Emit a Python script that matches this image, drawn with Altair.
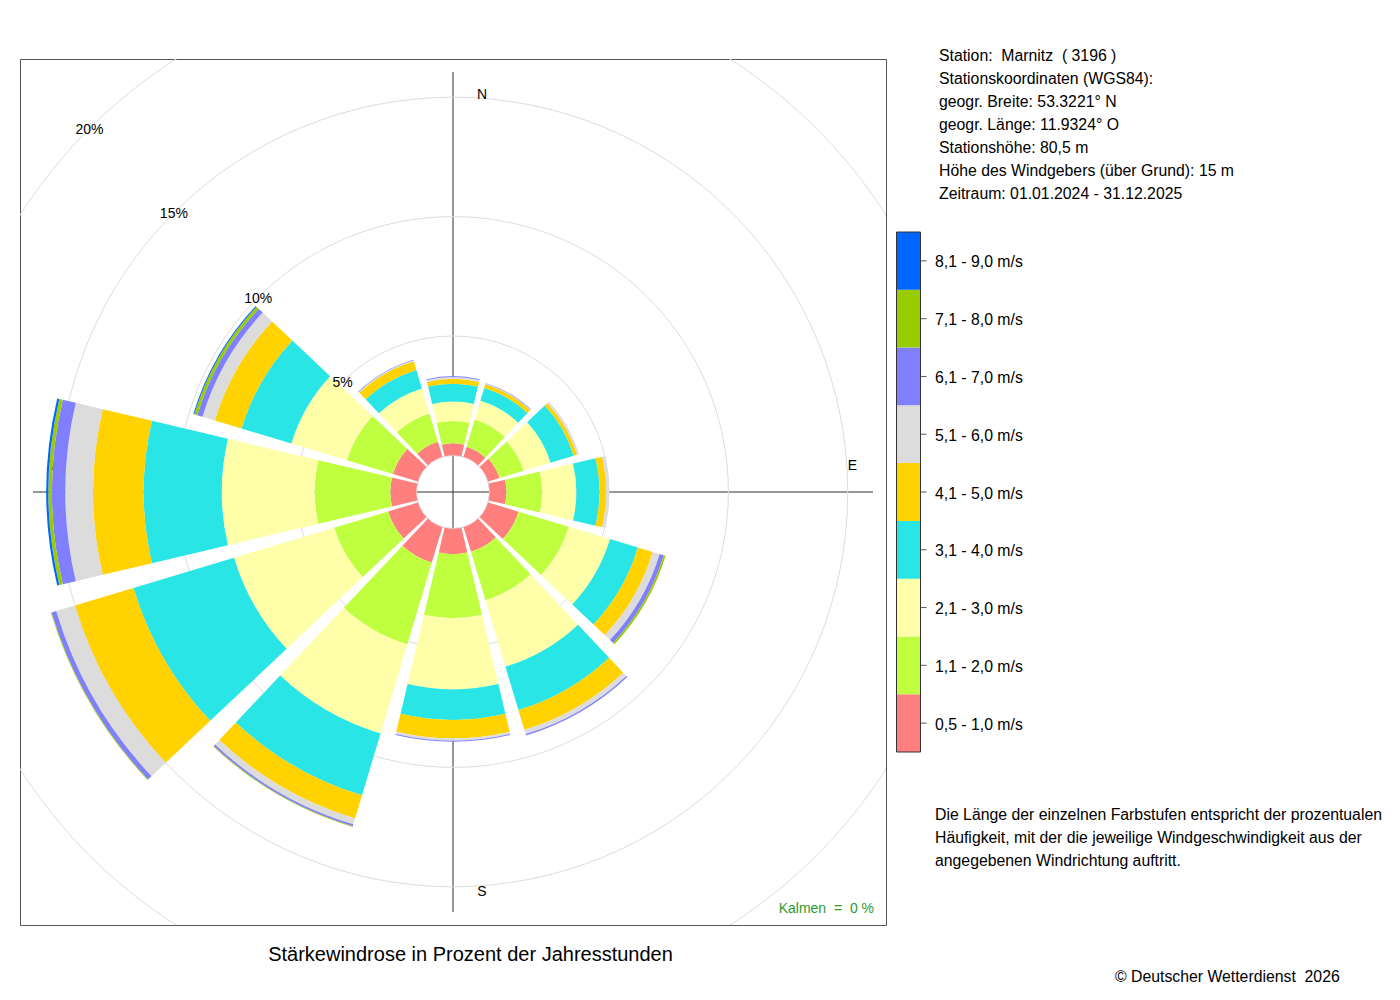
import altair as alt
import pandas as pd

# ---------------- data (percent of hours per direction sector) ----------------
directions = [0, 30, 60, 90, 120, 150, 180, 210, 240, 270, 300, 330]

classes = ["0,5 - 1,0 m/s", "1,1 - 2,0 m/s", "2,1 - 3,0 m/s", "3,1 - 4,0 m/s",
           "4,1 - 5,0 m/s", "5,1 - 6,0 m/s", "6,1 - 7,0 m/s", "7,1 - 8,0 m/s",
           "8,1 - 9,0 m/s"]
colors = ["#FF7F7F", "#BFFF3F", "#FFFFAA", "#2AE5E5", "#FFD200",
          "#DCDCDC", "#8080FF", "#99CC00", "#0066FF"]

#          N     NNE   ENE   E     ESE   SSE   S     SSW   WSW   W     WNW   NNW
v05_10 = [0.50, 0.44, 0.50, 0.70, 1.33, 1.08, 1.07, 1.55, 1.30, 1.09, 1.09, 0.66]
v11_20 = [0.94, 1.19, 1.05, 1.50, 2.20, 2.12, 2.68, 3.58, 2.36, 3.17, 2.01, 1.24]
v21_30 = [0.81, 0.82, 1.18, 1.43, 1.80, 2.90, 2.98, 3.89, 4.38, 3.89, 2.43, 1.09]
v31_40 = [0.75, 0.56, 1.01, 0.97, 1.22, 1.90, 1.28, 2.71, 4.40, 3.27, 2.18, 0.81]
v41_50 = [0.20, 0.16, 0.15, 0.28, 0.65, 0.86, 0.77, 1.01, 2.56, 2.12, 1.17, 0.38]
v51_60 = [0.08, 0.03, 0.08, 0.12, 0.30, 0.19, 0.10, 0.26, 0.82, 1.16, 0.54, 0.04]
v61_70 = [0.04, 0.02, 0.00, 0.00, 0.18, 0.06, 0.04, 0.08, 0.20, 0.56, 0.23, 0.03]
v71_80 = [0.00, 0.00, 0.00, 0.00, 0.08, 0.00, 0.00, 0.03, 0.03, 0.15, 0.13, 0.00]
v81_90 = [0.00, 0.00, 0.00, 0.00, 0.00, 0.00, 0.00, 0.00, 0.00, 0.09, 0.04, 0.00]
series = [v05_10, v11_20, v21_30, v31_40, v41_50, v51_60, v61_70, v71_80, v81_90]

ring_pcts = [5, 10, 15, 20]
ring_labels = ["5%", "10%", "15%", "20%"]
compass = ["N", "E", "S", "W"]
compass_deg = [0, 90, 180, 270]

station_lines = [
    "Station:\u00a0 Marnitz \u00a0( 3196 )",
    "Stationskoordinaten (WGS84):",
    "geogr. Breite: 53.3221\u00b0 N",
    "geogr. L\u00e4nge: 11.9324\u00b0 O",
    "Stationsh\u00f6he: 80,5 m",
    "H\u00f6he des Windgebers (\u00fcber Grund): 15 m",
    "Zeitraum: 01.01.2024 - 31.12.2025",
]
note_lines = [
    "Die L\u00e4nge der einzelnen Farbstufen entspricht der prozentualen",
    "H\u00e4ufigkeit, mit der die jeweilige Windgeschwindigkeit aus der",
    "angegebenen Windrichtung auftritt.",
]
title_text = "St\u00e4rkewindrose in Prozent der Jahresstunden"
calm_text = "Kalmen \u00a0=\u00a0 0 %"
copyright_text = "\u00a9 Deutscher Wetterdienst \u00a02026"

# ---------------- build tables ----------------
HALF = 13.3
rows = []
for i, d in enumerate(directions):
    cum = 0.0
    for k, cls in enumerate(classes):
        v = series[k][i]
        if v > 0:
            rows.append({"dir": d, "cls": cls, "t0": d - HALF, "t1": d + HALF,
                         "r0": cum, "r1": cum + v})
        cum += v
sectors = pd.DataFrame(rows)

FONT = "Liberation Sans"
theta_scale = alt.Scale(domain=[0, 360], range=[0, 6.283185307179586])
rad_scale = alt.Scale(type="linear", domain=[0, 20], range=[36.7, 514.1])
color_scale = alt.Scale(domain=classes, range=colors)

W = 866
C = W / 2

# crosshair lines (under everything)
vline = alt.Chart(pd.DataFrame({"a": [0]})).mark_rule(color="#333333", strokeWidth=1).encode(
    x=alt.value(C), y=alt.value(C - 420), y2=alt.value(C + 420))
hline = alt.Chart(pd.DataFrame({"a": [0]})).mark_rule(color="#333333", strokeWidth=1).encode(
    y=alt.value(C), x=alt.value(C - 420), x2=alt.value(C + 420))

grid_df = pd.DataFrame({"p": ring_pcts, "t0": [0] * 4, "t1": [360] * 4})
grid = alt.Chart(grid_df).mark_arc(filled=False, stroke="#DDDDDD", strokeWidth=1, clip=True).encode(
    theta=alt.Theta("t0:Q", scale=theta_scale, stack=None),
    theta2="t1:Q",
    radius=alt.Radius("p:Q", scale=rad_scale, stack=None),
)

comp_df = pd.DataFrame({"lab": compass, "t": compass_deg, "p": [15.15] * 4})
comp_ns = alt.Chart(comp_df[comp_df["lab"].isin(["N", "S"])]).mark_text(
    font=FONT, fontSize=14, color="black", align="center", baseline="middle", dx=29, dy=1.5).encode(
    theta=alt.Theta("t:Q", scale=theta_scale, stack=None),
    radius=alt.Radius("p:Q", scale=rad_scale, stack=None),
    text="lab:N")
comp_ew = alt.Chart(comp_df[comp_df["lab"].isin(["E", "W"])]).mark_text(
    font=FONT, fontSize=14, color="black", align="center", baseline="middle", dx=1, dy=-26.5).encode(
    theta=alt.Theta("t:Q", scale=theta_scale, stack=None),
    radius=alt.Radius("p:Q", scale=rad_scale, stack=None),
    text="lab:N")

arcs = alt.Chart(sectors).mark_arc().encode(
    theta=alt.Theta("t0:Q", scale=theta_scale, stack=None),
    theta2="t1:Q",
    radius=alt.Radius("r1:Q", scale=rad_scale, stack=None),
    radius2="r0:Q",
    color=alt.Color("cls:N", scale=color_scale, legend=None),
)

pct_df = pd.DataFrame({"p": ring_pcts, "lab": ring_labels, "t": [315] * 4})
pct_text = alt.Chart(pct_df).mark_text(
    font=FONT, fontSize=14, color="black", align="center", baseline="middle", dy=1.5).encode(
    theta=alt.Theta("t:Q", scale=theta_scale, stack=None),
    radius=alt.Radius("p:Q", scale=rad_scale, stack=None),
    text="lab:N")

# ---------------- legend (colour bar) ----------------
leg_df = pd.DataFrame({"cls": classes})
y_leg = alt.Scale(domain=classes[::-1], range=[173, 693], paddingInner=0, paddingOuter=0)
leg_rect = alt.Chart(leg_df).mark_rect().encode(
    y=alt.Y("cls:N", scale=y_leg, axis=None),
    x=alt.value(876.5), x2=alt.value(900.5),
    color=alt.Color("cls:N", scale=color_scale, legend=None))
leg_frame = alt.Chart(pd.DataFrame({"a": [0]})).mark_rect(
    filled=False, stroke="#333333", strokeWidth=1).encode(
    x=alt.value(876.5), x2=alt.value(900.5), y=alt.value(173), y2=alt.value(693))
leg_tick = alt.Chart(leg_df).mark_rule(color="#555555", strokeWidth=1).encode(
    y=alt.Y("cls:N", scale=y_leg, axis=None, bandPosition=0.5),
    x=alt.value(900.5), x2=alt.value(906.5))
leg_text = alt.Chart(leg_df).mark_text(
    font=FONT, fontSize=15.8, color="black", align="left", baseline="middle", dy=1.5).encode(
    y=alt.Y("cls:N", scale=y_leg, axis=None, bandPosition=0.5),
    x=alt.value(915), text="cls:N")

# ---------------- annotation texts ----------------
one = pd.DataFrame({"a": [0]})
station = alt.Chart(one).mark_text(
    font=FONT, fontSize=15.8, color="black", align="left", baseline="alphabetic",
    lineHeight=22.93, text=station_lines).encode(x=alt.value(919), y=alt.value(2.0))
note = alt.Chart(one).mark_text(
    font=FONT, fontSize=15.8, color="black", align="left", baseline="alphabetic",
    lineHeight=23, text=note_lines).encode(x=alt.value(915), y=alt.value(760.6))
title = alt.Chart(one).mark_text(
    font=FONT, fontSize=20, color="black", align="center", baseline="alphabetic",
    text=title_text).encode(x=alt.value(450.5), y=alt.value(902))
calm = alt.Chart(one).mark_text(
    font=FONT, fontSize=14, color="#2E9A2E", align="right", baseline="alphabetic",
    text=calm_text).encode(x=alt.value(854), y=alt.value(854))
copyr = alt.Chart(one).mark_text(
    font=FONT, fontSize=15.8, color="black", align="left", baseline="alphabetic",
    text=copyright_text).encode(x=alt.value(1095), y=alt.value(922.6))

chart = alt.layer(
    vline, hline, grid, comp_ns, comp_ew, arcs, pct_text,
    leg_rect, leg_frame, leg_tick, leg_text,
    station, note, title, calm, copyr,
).properties(
    width=W, height=W,
    autosize=alt.AutoSizeParams(type="none"),
    padding={"left": 12, "top": 51, "right": 506, "bottom": 67},
    background="white",
).configure_view(stroke="#555555", strokeWidth=1)

chart.save("out.html", embed_options={"renderer": "svg", "actions": False})
